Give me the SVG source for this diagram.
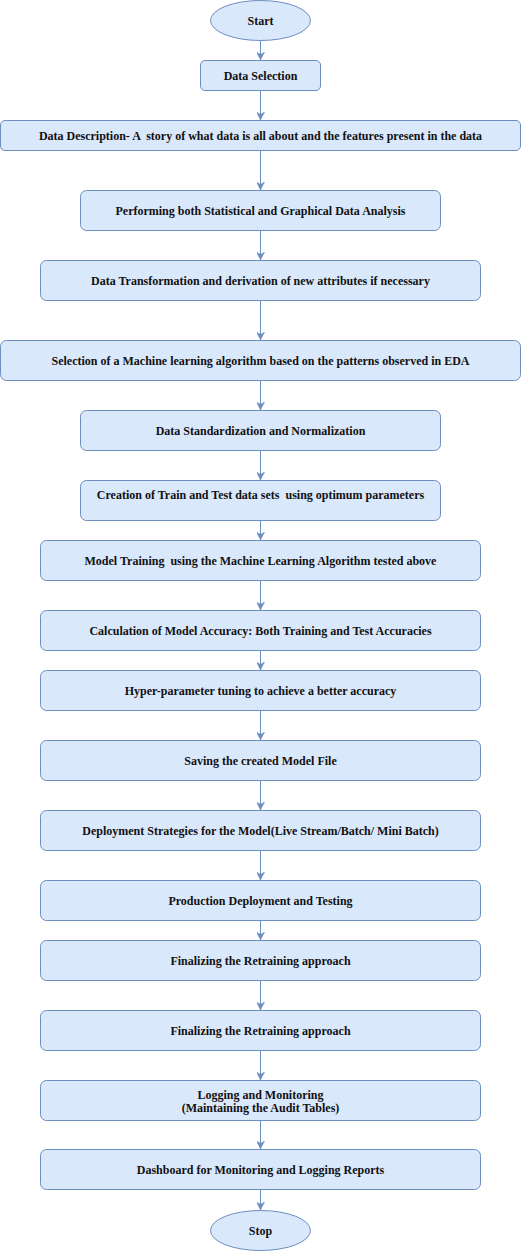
<svg xmlns="http://www.w3.org/2000/svg" width="521" height="1251" viewBox="0 0 521 1251">
<style>
.n rect, .n ellipse { fill: #dae8fc; stroke: #6c8ebf; stroke-width: 1; }
.n text { font-family: "Liberation Serif", "Times New Roman", serif; font-size: 12px; font-weight: bold; fill: #111111; text-anchor: middle; }
.c line { stroke: #6c8ebf; stroke-width: 1; fill: none; marker-end: url(#arr); }
</style>
<defs>
<marker id="arr" viewBox="0 0 8 8" markerWidth="8" markerHeight="8" refX="8" refY="4" orient="auto" markerUnits="userSpaceOnUse">
<path d="M0,0 L8,4 L0,8 L2.5,4 Z" fill="#6c8ebf" stroke="#6c8ebf" stroke-width="0.5"/>
</marker>
</defs>
<rect width="521" height="1251" fill="#ffffff"/>
<g id="connectors" class="c">
<line x1="260.5" y1="40.5" x2="260.5" y2="60"/>
<line x1="260.5" y1="90.5" x2="260.5" y2="120"/>
<line x1="260.5" y1="150.5" x2="260.5" y2="190"/>
<line x1="260.5" y1="230.5" x2="260.5" y2="260"/>
<line x1="260.5" y1="300.5" x2="260.5" y2="340"/>
<line x1="260.5" y1="380.5" x2="260.5" y2="410"/>
<line x1="260.5" y1="450.5" x2="260.5" y2="480"/>
<line x1="260.5" y1="520.5" x2="260.5" y2="540"/>
<line x1="260.5" y1="580.5" x2="260.5" y2="610"/>
<line x1="260.5" y1="650.5" x2="260.5" y2="670"/>
<line x1="260.5" y1="710.5" x2="260.5" y2="740"/>
<line x1="260.5" y1="780.5" x2="260.5" y2="810"/>
<line x1="260.5" y1="850.5" x2="260.5" y2="880"/>
<line x1="260.5" y1="920.5" x2="260.5" y2="940"/>
<line x1="260.5" y1="980.5" x2="260.5" y2="1010"/>
<line x1="260.5" y1="1050.5" x2="260.5" y2="1080"/>
<line x1="260.5" y1="1120.5" x2="260.5" y2="1149"/>
<line x1="260.5" y1="1189.5" x2="260.5" y2="1210"/>
</g>
<g id="start" class="n"><ellipse cx="260.5" cy="20.5" rx="50" ry="20"/><text x="260.5" y="25">Start</text></g>
<g id="data-selection" class="n"><rect x="200.5" y="60.5" width="120" height="30" rx="4.5"/><text x="260.5" y="80">Data Selection</text></g>
<g id="data-description" class="n"><rect x="0.5" y="120.5" width="520" height="30" rx="4.5"/><text x="260.5" y="140" xml:space="preserve">Data Description- A  story of what data is all about and the features present in the data</text></g>
<g id="analysis" class="n"><rect x="80.5" y="190.5" width="360" height="40" rx="6"/><text x="260.5" y="215">Performing both Statistical and Graphical Data Analysis</text></g>
<g id="transformation" class="n"><rect x="40.5" y="260.5" width="440" height="40" rx="6"/><text x="260.5" y="285">Data Transformation and derivation of new attributes if necessary</text></g>
<g id="algorithm-selection" class="n"><rect x="0.5" y="340.5" width="520" height="40" rx="6"/><text x="260.5" y="365">Selection of a Machine learning algorithm based on the patterns observed in EDA</text></g>
<g id="standardization" class="n"><rect x="80.5" y="410.5" width="360" height="40" rx="6"/><text x="260.5" y="435">Data Standardization and Normalization</text></g>
<g id="train-test" class="n"><rect x="80.5" y="480.5" width="360" height="40" rx="6"/><text x="260.5" y="498.5" xml:space="preserve">Creation of Train and Test data sets  using optimum parameters</text></g>
<g id="model-training" class="n"><rect x="40.5" y="540.5" width="440" height="40" rx="6"/><text x="260.5" y="565" xml:space="preserve">Model Training  using the Machine Learning Algorithm tested above</text></g>
<g id="accuracy" class="n"><rect x="40.5" y="610.5" width="440" height="40" rx="6"/><text x="260.5" y="635">Calculation of Model Accuracy: Both Training and Test Accuracies</text></g>
<g id="tuning" class="n"><rect x="40.5" y="670.5" width="440" height="40" rx="6"/><text x="260.5" y="695">Hyper-parameter tuning to achieve a better accuracy</text></g>
<g id="saving" class="n"><rect x="40.5" y="740.5" width="440" height="40" rx="6"/><text x="260.5" y="765">Saving the created Model File</text></g>
<g id="deployment-strategies" class="n"><rect x="40.5" y="810.5" width="440" height="40" rx="6"/><text x="260.5" y="835">Deployment Strategies for the Model(Live Stream/Batch/ Mini Batch)</text></g>
<g id="production" class="n"><rect x="40.5" y="880.5" width="440" height="40" rx="6"/><text x="260.5" y="905">Production Deployment and Testing</text></g>
<g id="retraining-1" class="n"><rect x="40.5" y="940.5" width="440" height="40" rx="6"/><text x="260.5" y="965">Finalizing the Retraining approach</text></g>
<g id="retraining-2" class="n"><rect x="40.5" y="1010.5" width="440" height="40" rx="6"/><text x="260.5" y="1035">Finalizing the Retraining approach</text></g>
<g id="logging" class="n"><rect x="40.5" y="1080.5" width="440" height="40" rx="6"/><text x="260.5" y="1098.5">Logging and Monitoring</text><text x="260.5" y="1112">(Maintaining the Audit Tables)</text></g>
<g id="dashboard" class="n"><rect x="40.5" y="1149.5" width="440" height="40" rx="6"/><text x="260.5" y="1174">Dashboard for Monitoring and Logging Reports</text></g>
<g id="stop" class="n"><ellipse cx="260.5" cy="1230.5" rx="50" ry="20"/><text x="260.5" y="1235">Stop</text></g>
</svg>
